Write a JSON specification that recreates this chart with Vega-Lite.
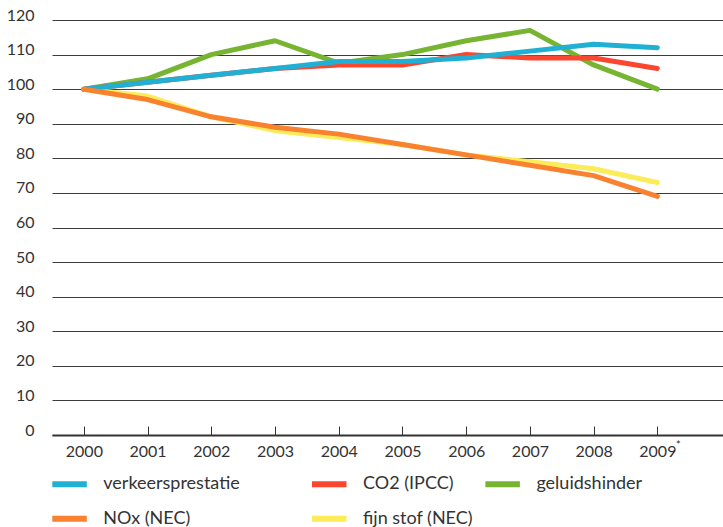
{
  "$schema": "https://vega.github.io/schema/vega-lite/v6.json",
  "width": 671,
  "height": 415,
  "autosize": {"type": "none"},
  "padding": {"left": 52, "top": 20, "right": 0, "bottom": 92},
  "background": "white",
  "config": {
    "view": {"stroke": null},
    "font": "Lato",
    "axis": {"labelFont": "Lato", "labelColor": "#333333", "labelFontSize": 16, "title": null},
    "legend": {"labelFont": "Lato", "labelFontSize": 18, "labelColor": "#333333", "padding": 0}
  },
  "datasets": {
    "series": [
      {"year": 2000, "series": "verkeersprestatie", "value": 100},
      {"year": 2001, "series": "verkeersprestatie", "value": 102},
      {"year": 2002, "series": "verkeersprestatie", "value": 104},
      {"year": 2003, "series": "verkeersprestatie", "value": 106},
      {"year": 2004, "series": "verkeersprestatie", "value": 108},
      {"year": 2005, "series": "verkeersprestatie", "value": 108},
      {"year": 2006, "series": "verkeersprestatie", "value": 109},
      {"year": 2007, "series": "verkeersprestatie", "value": 111},
      {"year": 2008, "series": "verkeersprestatie", "value": 113},
      {"year": 2009, "series": "verkeersprestatie", "value": 112},
      {"year": 2000, "series": "CO2 (IPCC)", "value": 100},
      {"year": 2001, "series": "CO2 (IPCC)", "value": 102},
      {"year": 2002, "series": "CO2 (IPCC)", "value": 104},
      {"year": 2003, "series": "CO2 (IPCC)", "value": 106},
      {"year": 2004, "series": "CO2 (IPCC)", "value": 107},
      {"year": 2005, "series": "CO2 (IPCC)", "value": 107},
      {"year": 2006, "series": "CO2 (IPCC)", "value": 110},
      {"year": 2007, "series": "CO2 (IPCC)", "value": 109},
      {"year": 2008, "series": "CO2 (IPCC)", "value": 109},
      {"year": 2009, "series": "CO2 (IPCC)", "value": 106},
      {"year": 2000, "series": "geluidshinder", "value": 100},
      {"year": 2001, "series": "geluidshinder", "value": 103},
      {"year": 2002, "series": "geluidshinder", "value": 110},
      {"year": 2003, "series": "geluidshinder", "value": 114},
      {"year": 2004, "series": "geluidshinder", "value": 107.5},
      {"year": 2005, "series": "geluidshinder", "value": 110},
      {"year": 2006, "series": "geluidshinder", "value": 114},
      {"year": 2007, "series": "geluidshinder", "value": 117},
      {"year": 2008, "series": "geluidshinder", "value": 107},
      {"year": 2009, "series": "geluidshinder", "value": 100},
      {"year": 2000, "series": "NOx (NEC)", "value": 100},
      {"year": 2001, "series": "NOx (NEC)", "value": 97},
      {"year": 2002, "series": "NOx (NEC)", "value": 92},
      {"year": 2003, "series": "NOx (NEC)", "value": 89},
      {"year": 2004, "series": "NOx (NEC)", "value": 87},
      {"year": 2005, "series": "NOx (NEC)", "value": 84},
      {"year": 2006, "series": "NOx (NEC)", "value": 81},
      {"year": 2007, "series": "NOx (NEC)", "value": 78},
      {"year": 2008, "series": "NOx (NEC)", "value": 75},
      {"year": 2009, "series": "NOx (NEC)", "value": 69},
      {"year": 2000, "series": "fijn stof (NEC)", "value": 100},
      {"year": 2001, "series": "fijn stof (NEC)", "value": 98},
      {"year": 2002, "series": "fijn stof (NEC)", "value": 92},
      {"year": 2003, "series": "fijn stof (NEC)", "value": 88},
      {"year": 2004, "series": "fijn stof (NEC)", "value": 86},
      {"year": 2005, "series": "fijn stof (NEC)", "value": 84},
      {"year": 2006, "series": "fijn stof (NEC)", "value": 81},
      {"year": 2007, "series": "fijn stof (NEC)", "value": 79},
      {"year": 2008, "series": "fijn stof (NEC)", "value": 77},
      {"year": 2009, "series": "fijn stof (NEC)", "value": 73}
    ],
    "notes": [
      {"year": 2009, "value": 0, "note": "*"}
    ]
  },
  "data": {"name": "series"},
  "encoding": {
    "x": {
      "field": "year", "type": "quantitative",
      "scale": {"domain": [1999.5, 2010.03], "nice": false, "zero": false},
      "axis": {
        "values": [2000, 2001, 2002, 2003, 2004, 2005, 2006, 2007, 2008, 2009],
        "format": "d", "grid": false,
        "domain": true, "domainColor": "#333333", "domainWidth": 2,
        "ticks": true, "tickSize": -9, "tickColor": "#333333", "tickWidth": 1,
        "labelPadding": 30, "labelBaseline": "alphabetic", "labelFlush": false
      }
    },
    "y": {
      "field": "value", "type": "quantitative",
      "scale": {"domain": [0, 120], "nice": false},
      "axis": {
        "values": [0, 10, 20, 30, 40, 50, 60, 70, 80, 90, 100, 110, 120],
        "grid": true, "gridColor": "#3c3c3c", "gridWidth": 1.2,
        "domain": false, "ticks": false,
        "labelPadding": 18, "labelBaseline": "alphabetic", "labelOffset": 0
      }
    }
  },
  "layer": [
    {
      "transform": [{"filter": "datum.series === 'geluidshinder'"}],
      "mark": {"type": "line", "strokeWidth": 5, "strokeCap": "round", "strokeJoin": "round"},
      "encoding": {
        "color": {
          "field": "series", "type": "nominal",
          "scale": {"domain": ["geluidshinder"], "range": ["#76b432"]},
          "legend": {
            "title": null, "orient": "none", "legendX": 430.15, "legendY": 443.8,
            "symbolType": "stroke", "symbolSize": 1190, "symbolStrokeWidth": 6,
            "labelOffset": 13.25, "rowPadding": 1.5
          }
        }
      }
    },
    {
      "transform": [{"filter": "datum.series === 'CO2 (IPCC)' || datum.series === 'fijn stof (NEC)'"}],
      "mark": {"type": "line", "strokeWidth": 5, "strokeCap": "round", "strokeJoin": "round"},
      "encoding": {
        "color": {
          "field": "series", "type": "nominal",
          "scale": {"domain": ["CO2 (IPCC)", "fijn stof (NEC)"], "range": ["#fb4630", "#fcec5a"]},
          "legend": {
            "title": null, "orient": "none", "legendX": 256.75, "legendY": 443.8,
            "symbolType": "stroke", "symbolSize": 1190, "symbolStrokeWidth": 6,
            "labelOffset": 13.25, "rowPadding": 1.5
          }
        }
      }
    },
    {
      "transform": [{"filter": "datum.series === 'verkeersprestatie' || datum.series === 'NOx (NEC)'"}],
      "mark": {"type": "line", "strokeWidth": 5, "strokeCap": "round", "strokeJoin": "round"},
      "encoding": {
        "color": {
          "field": "series", "type": "nominal",
          "scale": {"domain": ["verkeersprestatie", "NOx (NEC)"], "range": ["#20b0d3", "#f88230"]},
          "legend": {
            "title": null, "orient": "none", "legendX": -2.95, "legendY": 443.8,
            "symbolType": "stroke", "symbolSize": 1190, "symbolStrokeWidth": 6,
            "labelOffset": 13.25, "rowPadding": 1.5
          }
        }
      }
    },
    {
      "data": {"name": "notes"},
      "mark": {"type": "text", "font": "Lato", "fontSize": 11, "color": "#333333", "baseline": "alphabetic", "align": "center", "dx": 21, "dy": 14},
      "encoding": {
        "text": {"field": "note", "type": "nominal"}
      }
    }
  ],
  "resolve": {"scale": {"color": "independent"}, "legend": {"color": "independent"}}
}
